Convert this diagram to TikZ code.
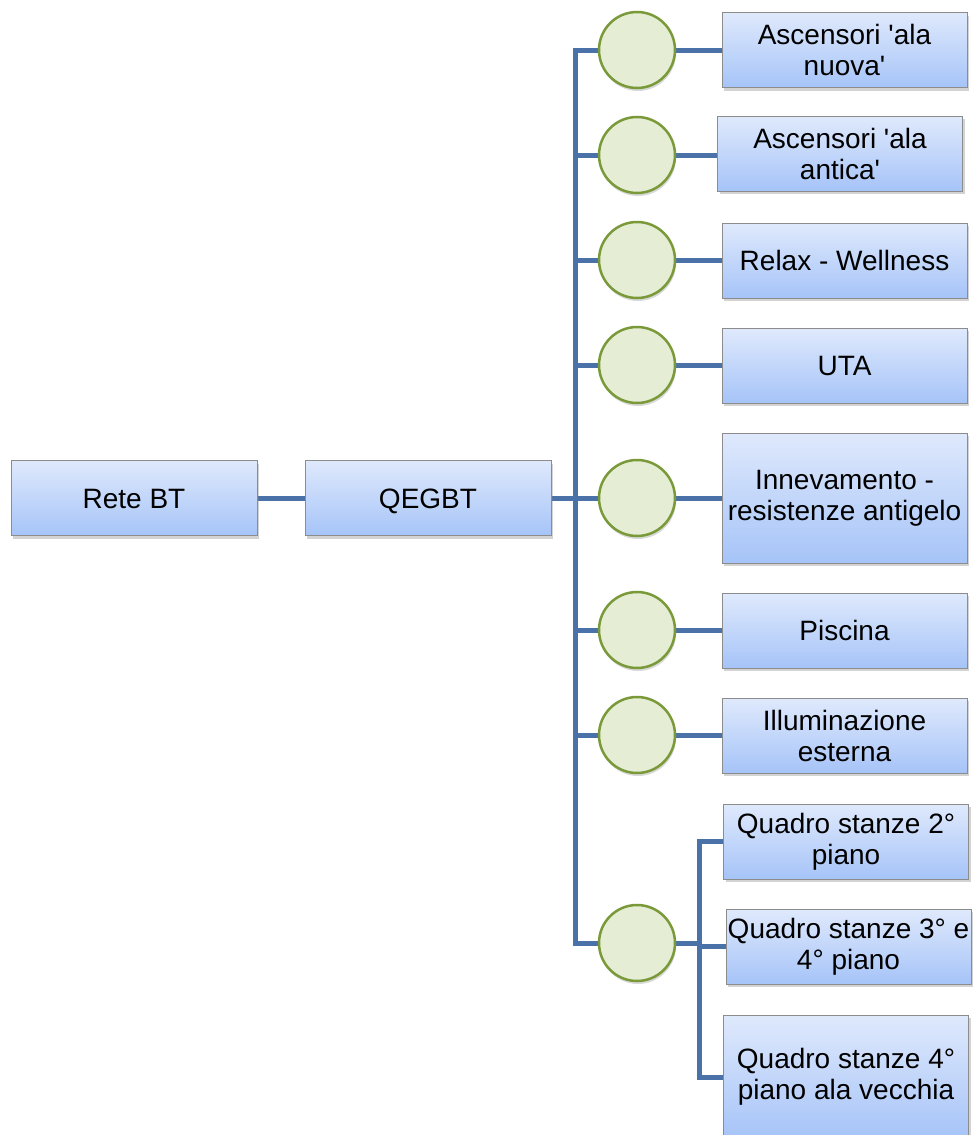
\documentclass[tikz,border=0pt]{standalone}
\usepackage{fontspec}
\setmainfont{Liberation Sans}
\usetikzlibrary{shadows,backgrounds}
\definecolor{wire}{HTML}{4A72A8}
\definecolor{boxline}{HTML}{8C8C8C}
\definecolor{boxtop}{HTML}{DFE9FC}
\definecolor{boxbot}{HTML}{A6C4F8}
\definecolor{ringline}{HTML}{7A9A3A}
\definecolor{ringfill}{HTML}{E6EDD5}

\begin{document}
\begin{tikzpicture}
  [x=1pt,y=-1pt,
   panel/.style={rectangle,draw=boxline,line width=1pt,top color=boxtop,bottom color=boxbot,
     minimum width=245,minimum height=75,inner sep=0pt,align=center,
     font=\fontsize{28}{31}\selectfont,
     drop shadow={shadow xshift=2pt,shadow yshift=-3pt,opacity=.35}},
   oneline/.style={text height=20pt,text depth=0pt},
   ring/.style={circle,draw=ringline,line width=2.5pt,fill=ringfill,minimum size=76,inner sep=0pt,
     drop shadow={shadow xshift=1pt,shadow yshift=-3pt,opacity=.3}},
   wires/.style={draw=wire,line width=5pt}]
  \useasboundingbox (0,0) rectangle (973,1135);

  \node[panel,oneline,minimum width=246] (rete) at (134,498) {Rete BT};
  \node[panel,oneline,minimum width=246] (qegbt) at (428,498) {QEGBT};

  \node[ring] (c1) at (637,50)  {};
  \node[ring] (c2) at (637,155) {};
  \node[ring] (c3) at (637,260) {};
  \node[ring] (c4) at (637,365) {};
  \node[ring] (c5) at (637,498) {};
  \node[ring] (c6) at (637,630) {};
  \node[ring] (c7) at (637,735) {};
  \node[ring] (c8) at (637,943) {};

  \node[panel] (b1) at (844.5,50)    {Ascensori \textquotesingle ala\\nuova\textquotesingle};
  \node[panel] (b2) at (840,153.5)   {Ascensori \textquotesingle ala\\antica\textquotesingle};
  \node[panel,oneline] (b3) at (844.5,260.5) {Relax - Wellness};
  \node[panel,oneline] (b4) at (844.5,365.5) {UTA};
  \node[panel,minimum height=130] (b5) at (844.5,498) {Innevamento -\\resistenze antigelo};
  \node[panel,oneline] (b6) at (844.5,630.5) {Piscina};
  \node[panel] (b7) at (844.5,735.5) {Illuminazione\\esterna};

  \node[panel] (q1) at (846,841.5)   {Quadro stanze 2°\\piano};
  \node[panel] (q2) at (848.5,946.5) {Quadro stanze 3° e\\4° piano};
  \node[panel,minimum height=124] (q3) at (846,1077) {Quadro stanze 4°\\piano ala vecchia};

  \coordinate (bj) at (575,498);
  \coordinate (sj) at (699,943);

\begin{scope}[on background layer]
  \draw[wires] (rete) -- (qegbt);
  \draw[wires] (qegbt) -- (bj);
  \foreach \i in {1,...,8}
    \draw[wires] (bj) |- (c\i);
  \foreach \i in {1,...,7}
    \draw[wires] (c\i.east) -- (c\i.east -| b\i.west);
  \draw[wires] (c8) -- (sj);
  \foreach \q in {q1,q2,q3}
    \draw[wires] (sj) |- (\q.west);
\end{scope}
\end{tikzpicture}
\end{document}
